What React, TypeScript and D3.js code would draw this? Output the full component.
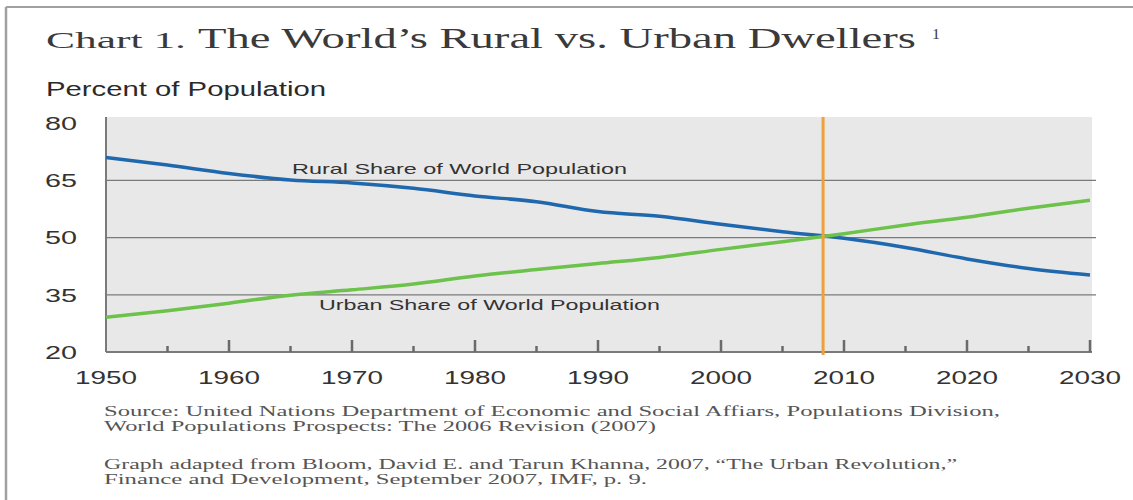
import React from "react";
import * as d3 from "d3";

const years = [1950, 1955, 1960, 1965, 1970, 1975, 1980, 1985, 1990, 1995, 2000, 2005, 2010, 2015, 2020, 2025, 2030];
const ruralShare = [71.0, 69.0, 66.8, 65.1, 64.3, 62.9, 60.9, 59.4, 56.8, 55.6, 53.5, 51.5, 49.8, 47.4, 44.4, 41.9, 40.2];
const urbanShare = [29.1, 30.8, 32.8, 34.9, 36.3, 37.8, 39.9, 41.6, 43.2, 44.8, 46.9, 48.9, 51.0, 53.3, 55.3, 57.7, 59.8];
const yTicks = [20, 35, 50, 65, 80];
const xMajorTicks = [1950, 1960, 1970, 1980, 1990, 2000, 2010, 2020, 2030];
const xMinorTicks = [1955, 1965, 1975, 1985, 1995, 2005, 2015, 2025];
const crossoverYear = 2008.3;

const W = 1133;
const H = 500;

function FText(props: any) {
  const { x, y, len, anchor = "start", size, family, fill = "#333", children } = props;
  return (
    <text
      x={x}
      y={y}
      textAnchor={anchor}
      fontSize={size}
      fontFamily={family}
      fill={fill}
      textLength={len}
      lengthAdjust="spacingAndGlyphs"
    >
      {children}
    </text>
  );
}

export default function App() {
  const x = d3.scaleLinear().domain([1950, 2030]).range([106, 1090]);
  const y = d3.scaleLinear().domain([20, 81.6]).range([352, 117]);
  const plotLeft = 106;
  const plotRight = 1092;
  const plotTop = 117;
  const plotBottom = 352;

  const line = d3
    .line<number>()
    .x((_, i) => x(years[i]))
    .y((d) => y(d))
    .curve(d3.curveMonotoneX);

  const sans = "'Liberation Sans', Arial, sans-serif";
  const serif = "'Liberation Serif', 'Times New Roman', serif";

  return (
    <svg width={W} height={H} style={{ position: "absolute", left: 0, top: 0, background: "#fff" }}>
      {/* frame */}
      <line x1={6} y1={7} x2={W} y2={7} stroke="#a0a0a0" strokeWidth={2} />
      <line x1={6} y1={7} x2={6} y2={H} stroke="#a0a0a0" strokeWidth={2.5} />

      {/* title */}
      <FText x={46} y={48} len={140} size={24} family={serif} fill="#3a3a3a">Chart 1.</FText>
      <FText x={198} y={48} len={718} size={30} family={serif} fill="#3a3a3a">The World’s Rural vs. Urban Dwellers</FText>
      <FText x={932} y={39} len={8} size={15} family={serif} fill="#3a3a3a">1</FText>

      <FText x={46} y={96} len={280} size={20} family={sans} fill="#2a2a2a">Percent of Population</FText>

      {/* plot background */}
      <rect x={plotLeft} y={plotTop} width={plotRight - plotLeft} height={plotBottom - plotTop} fill="#e8e8e8" />

      {/* gridlines */}
      {yTicks.filter((t) => t !== 20 && t !== 80).map((t) => (
        <line key={t} x1={plotLeft} x2={plotRight + 4} y1={y(t)} y2={y(t)} stroke="#7a7a7a" strokeWidth={1.3} />
      ))}

      {/* axes */}
      <line x1={plotLeft} x2={plotLeft} y1={plotTop} y2={plotBottom} stroke="#7a7a7a" strokeWidth={2} />
      <line x1={plotLeft} x2={plotRight} y1={plotBottom} y2={plotBottom} stroke="#7a7a7a" strokeWidth={2} />
      {xMajorTicks.filter((t) => t !== 1950).map((t) => (
        <line key={t} x1={x(t)} x2={x(t)} y1={plotBottom} y2={plotBottom - 12} stroke="#6a6a6a" strokeWidth={2.5} />
      ))}
      {xMinorTicks.map((t) => (
        <line key={t} x1={x(t)} x2={x(t)} y1={plotBottom} y2={plotBottom - 6} stroke="#6a6a6a" strokeWidth={2.5} />
      ))}

      {/* y labels */}
      {yTicks.map((t) => (
        <FText key={t} x={77} y={y(t) + 6.8} len={32} size={19} family={sans} anchor="end" fill="#333">{t}</FText>
      ))}
      {/* x labels */}
      {xMajorTicks.map((t) => (
        <FText key={t} x={x(t)} y={383.5} len={62} size={19} family={sans} anchor="middle" fill="#333">{t}</FText>
      ))}

      {/* series */}
      <path d={line(ruralShare) || ""} fill="none" stroke="#2068ad" strokeWidth={3.5} />
      <path d={line(urbanShare) || ""} fill="none" stroke="#6cc24a" strokeWidth={3.5} />

      {/* crossover marker */}
      <line x1={x(crossoverYear)} x2={x(crossoverYear)} y1={plotTop} y2={plotBottom + 3} stroke="#f0a03a" strokeWidth={3} />

      {/* series labels */}
      <FText x={292} y={173.5} len={335} size={15} family={sans} fill="#333">Rural Share of World Population</FText>
      <FText x={319} y={310} len={341} size={15} family={sans} fill="#333">Urban Share of World Population</FText>

      {/* source */}
      <FText x={104} y={416} len={896} size={15} family={serif} fill="#555">Source: United Nations Department of Economic and Social Affiars, Populations Division,</FText>
      <FText x={104} y={431} len={552} size={15} family={serif} fill="#555">World Populations Prospects: The 2006 Revision (2007)</FText>
      <FText x={104} y={469} len={853} size={15} family={serif} fill="#555">Graph adapted from Bloom, David E. and Tarun Khanna, 2007, “The Urban Revolution,”</FText>
      <FText x={104} y={484} len={543} size={15} family={serif} fill="#555">Finance and Development, September 2007,  IMF, p. 9.</FText>
    </svg>
  );
}
